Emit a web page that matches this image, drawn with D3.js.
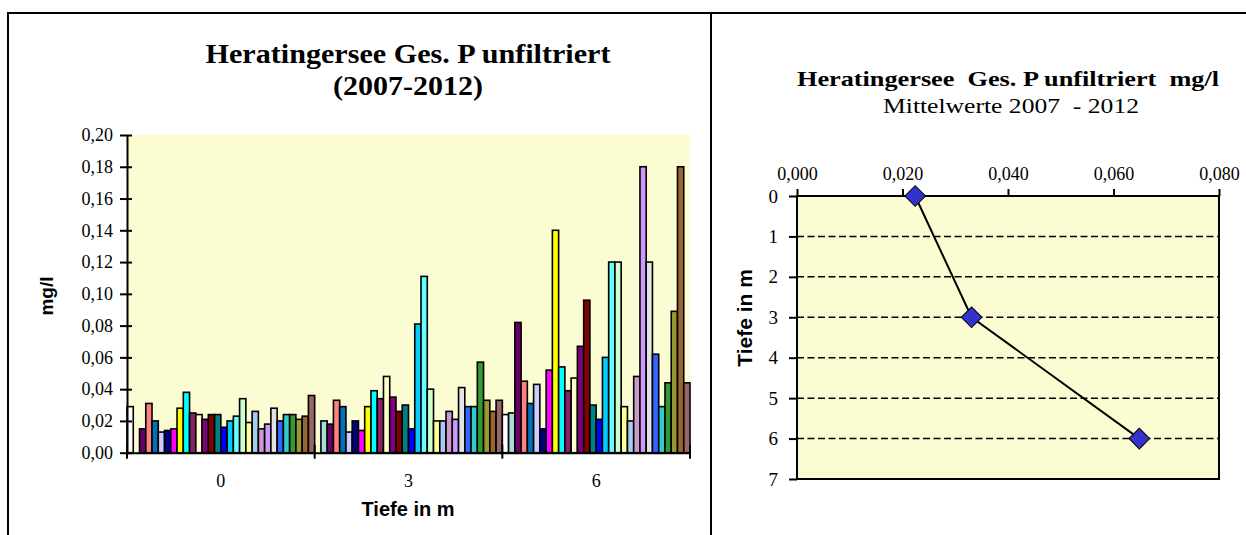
<!DOCTYPE html>
<html>
<head>
<meta charset="utf-8">
<script src="https://cdn.jsdelivr.net/npm/d3@7"></script>
<style>
  html, body { margin: 0; padding: 0; background: #ffffff; }
  svg { display: block; }
</style>
</head>
<body>
<svg id="chart" width="1246" height="535"></svg>
<script>
// ---------------- DATA ----------------
const depthCategories = ["0", "3", "6"];
// 30 samples (2007-2012) per depth; null = no measurement
const valuesDepth0 = [0.029, null, 0.015, 0.031, 0.020, 0.013, 0.014, 0.015, 0.028, 0.038,
                      0.025, 0.024, 0.021, 0.024, 0.024, 0.016, 0.020, 0.023, 0.034, 0.019,
                      0.026, 0.015, 0.018, 0.028, 0.020, 0.024, 0.024, 0.021, 0.023, 0.036];
const valuesDepth3 = [null, 0.020, 0.018, 0.033, 0.029, 0.013, 0.020, 0.014, 0.029, 0.039,
                      0.034, 0.048, 0.035, 0.026, 0.030, 0.015, 0.081, 0.111, 0.040, 0.020,
                      0.020, 0.026, 0.021, 0.041, 0.029, 0.029, 0.057, 0.033, 0.026, 0.033];
const valuesDepth6 = [0.024, 0.025, 0.082, 0.045, 0.031, 0.043, 0.015, 0.052, 0.140, 0.054,
                      0.039, 0.047, 0.067, 0.096, 0.030, 0.021, 0.060, 0.120, 0.120, 0.029,
                      0.020, 0.048, 0.180, 0.120, 0.062, 0.029, 0.044, 0.089, 0.180, 0.044];
const seriesColors = ["#FFFFFF", "#A6DCDC", "#660066", "#FF8080", "#0072BC", "#CCCCFF", "#000080", "#FF00FF", "#FFFF00", "#00FFFF",
                      "#882266", "#FFFFCC", "#800080", "#800000", "#008080", "#0000FF", "#00CCFF", "#66FFFF", "#CCFFCC", "#FFFF99",
                      "#A6CAF0", "#CC99CC", "#CC99FF", "#E3E3E3", "#3366FF", "#33CCCC", "#339933", "#999933", "#996633", "#996666"];
const yTickValues = [0, 0.02, 0.04, 0.06, 0.08, 0.10, 0.12, 0.14, 0.16, 0.18, 0.20];

const meanDepths = [0, 3, 6];
const meanValues = [0.0224, 0.0331, 0.0649];
const meanXTicks = [0, 0.02, 0.04, 0.06, 0.08];
const meanYTicks = [0, 1, 2, 3, 4, 5, 6, 7];

// ---------------- SETUP ----------------
const svg = d3.select("#chart");
const SERIF = "'Liberation Serif', 'Times New Roman', serif";
const SANS = "'Liberation Sans', Arial, sans-serif";
const fmt2 = v => d3.format(".2f")(v).replace(".", ",");
const fmt3 = v => d3.format(".3f")(v).replace(".", ",");

// outer frames
svg.append("line").attr("x1", 8).attr("x2", 1246).attr("y1", 13).attr("y2", 13).attr("stroke", "#000").attr("stroke-width", 2);
svg.append("line").attr("x1", 8).attr("x2", 8).attr("y1", 12).attr("y2", 535).attr("stroke", "#000").attr("stroke-width", 2);
svg.append("line").attr("x1", 711).attr("x2", 711).attr("y1", 12).attr("y2", 535).attr("stroke", "#000").attr("stroke-width", 2);

// ---------------- LEFT CHART ----------------
const L = { left: 127, right: 690, top: 135, bottom: 452.7 };
const groups = [valuesDepth0, valuesDepth3, valuesDepth6];
const seriesIdx = d3.range(valuesDepth0.length);

const x0 = d3.scaleBand().domain(depthCategories).range([L.left, L.right]).padding(0);
const x1 = d3.scaleBand().domain(seriesIdx).range([0, x0.bandwidth()]).padding(0);
const yL = d3.scaleLinear().domain([0, 0.2]).range([L.bottom, L.top]);

svg.append("rect").attr("x", L.left).attr("y", L.top).attr("width", L.right - L.left).attr("height", L.bottom - L.top)
  .attr("fill", "#FCFCD2");

const bars = [];
depthCategories.forEach((c, gi) => {
  groups[gi].forEach((v, si) => { if (v != null) bars.push({ c, si, v }); });
});
svg.append("g").selectAll("rect").data(bars).join("rect")
  .attr("x", d => x0(d.c) + x1(d.si))
  .attr("y", d => yL(d.v))
  .attr("width", x1.bandwidth())
  .attr("height", d => yL(0) - yL(d.v))
  .attr("fill", d => seriesColors[d.si])
  .attr("stroke", "#000").attr("stroke-width", 1.6);

// y axis
const yAxisL = d3.axisLeft(yL).tickValues(yTickValues).tickFormat(fmt2).tickSize(0).tickPadding(14);
const gyL = svg.append("g").attr("transform", `translate(${L.left},0)`).call(yAxisL);
gyL.select(".domain").attr("stroke", "#000").attr("stroke-width", 2);
gyL.selectAll("text").attr("font-family", SERIF).attr("font-size", 18).attr("fill", "#000");
gyL.selectAll(".tick").append("line").attr("x1", -7).attr("x2", 5).attr("stroke", "#000").attr("stroke-width", 2);

// x axis
const gxL = svg.append("g").attr("transform", `translate(0,${L.bottom})`)
  .call(d3.axisBottom(x0).tickSize(0).tickPadding(22));
gxL.select(".domain").attr("stroke", "#000").attr("stroke-width", 2);
gxL.selectAll("text").attr("font-family", SERIF).attr("font-size", 18).attr("fill", "#000");
const boundaries = depthCategories.map(c => x0(c)).concat([L.right]);
svg.append("g").selectAll("line").data(boundaries).join("line")
  .attr("x1", d => d).attr("x2", d => d).attr("y1", L.bottom - 8).attr("y2", L.bottom + 6)
  .attr("stroke", "#000").attr("stroke-width", 2);

// titles
svg.append("text").attr("x", 408).attr("y", 63).attr("text-anchor", "middle")
  .attr("font-family", SERIF).attr("font-weight", "bold").attr("font-size", 27)
  .attr("textLength", 405).attr("lengthAdjust", "spacingAndGlyphs")
  .text("Heratingersee Ges. P unfiltriert");
svg.append("text").attr("x", 408).attr("y", 95).attr("text-anchor", "middle")
  .attr("font-family", SERIF).attr("font-weight", "bold").attr("font-size", 27)
  .attr("textLength", 150).attr("lengthAdjust", "spacingAndGlyphs")
  .text("(2007-2012)");
svg.append("text").attr("transform", "translate(53,296) rotate(-90)").attr("text-anchor", "middle")
  .attr("font-family", SANS).attr("font-weight", "bold").attr("font-size", 19).text("mg/l");
svg.append("text").attr("x", 408).attr("y", 516).attr("text-anchor", "middle")
  .attr("font-family", SANS).attr("font-weight", "bold").attr("font-size", 20).text("Tiefe in m");

// ---------------- RIGHT CHART ----------------
const R = { left: 797, right: 1219, top: 196, bottom: 479 };
const xR = d3.scaleLinear().domain([0, 0.08]).range([R.left, R.right]);
const yR = d3.scaleLinear().domain([0, 7]).range([R.top, R.bottom]);

svg.append("rect").attr("x", R.left).attr("y", R.top).attr("width", R.right - R.left).attr("height", R.bottom - R.top)
  .attr("fill", "#FCFCD2").attr("stroke", "#000").attr("stroke-width", 2);

// dashed gridlines
svg.append("g").selectAll("line").data(meanYTicks.filter(t => t > 0 && t < 7)).join("line")
  .attr("x1", R.left).attr("x2", R.right).attr("y1", d => yR(d)).attr("y2", d => yR(d))
  .attr("stroke", "#000").attr("stroke-width", 1.5).attr("stroke-dasharray", "7,3.5");

const gxR = svg.append("g").attr("transform", `translate(0,${R.top})`)
  .call(d3.axisTop(xR).tickValues(meanXTicks).tickFormat(fmt3).tickSize(7).tickPadding(9));
gxR.select(".domain").remove();
gxR.selectAll(".tick line").attr("stroke", "#000").attr("stroke-width", 2);
gxR.selectAll("text").attr("font-family", SERIF).attr("font-size", 18).attr("fill", "#000");

const gyR = svg.append("g").attr("transform", `translate(${R.left},0)`)
  .call(d3.axisLeft(yR).tickValues(meanYTicks).tickFormat(d3.format("d")).tickSize(8).tickPadding(11));
gyR.select(".domain").remove();
gyR.selectAll(".tick line").attr("stroke", "#000").attr("stroke-width", 2);
gyR.selectAll("text").attr("font-family", SERIF).attr("font-size", 19).attr("fill", "#000");

const meanPts = meanDepths.map((d, i) => ({ d, v: meanValues[i] }));
svg.append("path").datum(meanPts)
  .attr("d", d3.line().x(p => xR(p.v)).y(p => yR(p.d)))
  .attr("fill", "none").attr("stroke", "#000").attr("stroke-width", 2);
svg.append("g").selectAll("path").data(meanPts).join("path")
  .attr("transform", p => `translate(${xR(p.v)},${yR(p.d)}) rotate(45)`)
  .attr("d", d3.symbol().type(d3.symbolSquare).size(215))
  .attr("fill", "#3333CC").attr("stroke", "#000").attr("stroke-width", 1);

svg.append("text").attr("x", 1008).attr("y", 86).attr("text-anchor", "middle")
  .attr("font-family", SERIF).attr("font-weight", "bold").attr("font-size", 22)
  .attr("textLength", 422).attr("lengthAdjust", "spacingAndGlyphs")
  .attr("xml:space", "preserve")
  .text("Heratingersee  Ges. P unfiltriert  mg/l");
svg.append("text").attr("x", 1011).attr("y", 113).attr("text-anchor", "middle")
  .attr("font-family", SERIF).attr("font-size", 22)
  .attr("textLength", 256).attr("lengthAdjust", "spacingAndGlyphs")
  .attr("xml:space", "preserve")
  .text("Mittelwerte 2007  - 2012");
svg.append("text").attr("transform", "translate(752,318) rotate(-90)").attr("text-anchor", "middle")
  .attr("font-family", SANS).attr("font-weight", "bold").attr("font-size", 21).text("Tiefe in m");
</script>
</body>
</html>
